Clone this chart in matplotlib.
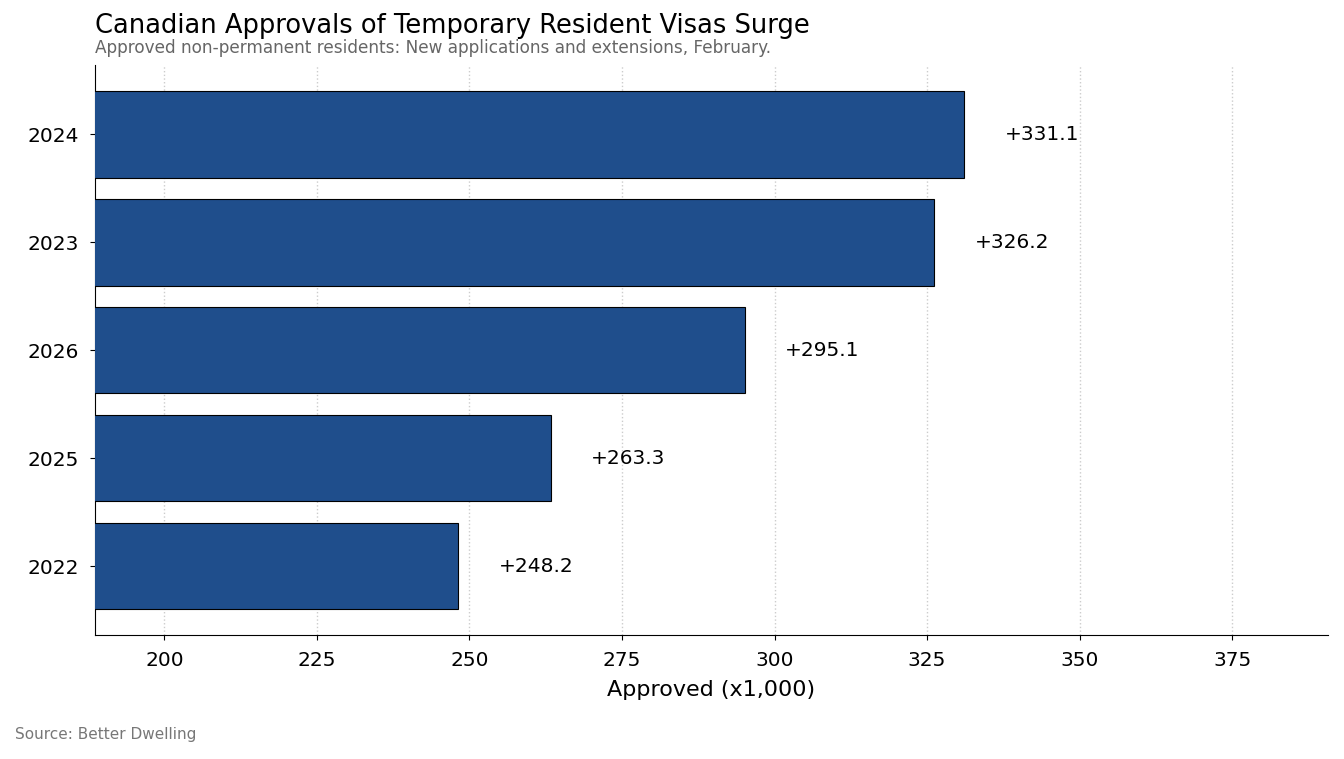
import numpy as np
import matplotlib.pyplot as plt

plt.rcParams['font.family'] = ['DejaVu Sans']

#%% data
years = ['2022', '2025', '2026', '2023', '2024']
approved = [248.2, 263.3, 295.1, 326.2, 331.1]

#%% plot
fig, ax = plt.subplots(figsize=[13.44, 7.59], dpi=100)
fig.subplots_adjust(left=0.0707, right=0.988, top=0.914, bottom=0.163)

pos = np.arange(len(years))
ax.barh(pos, approved, height=0.8, color='#1f4e8c', edgecolor='black', linewidth=0.8, zorder=3)
ax.set_yticks(pos)
ax.set_yticklabels(years)

off = max(approved) * 0.02
for p, v in zip(pos, approved):
    ax.text(v + off, p, f'+{v:.1f}', va='center', ha='left', fontsize=14.5)

ax.set_xlim(min(approved) * 0.76, max(approved) * 1.18)
ax.set_xticks(np.arange(200, 376, 25))
ax.tick_params(axis='both', labelsize=14.5, pad=8)
ax.set_xlabel('Approved (x1,000)', fontsize=16, labelpad=7)
ax.grid(axis='x', linestyle=':', color='#cccccc', linewidth=1, zorder=0)
ax.spines['top'].set_visible(False)
ax.spines['right'].set_visible(False)

fig.text(0.0707, 0.948, 'Canadian Approvals of Temporary Resident Visas Surge', fontsize=18.5, ha='left', va='bottom')
fig.text(0.0707, 0.925, 'Approved non-permanent residents: New applications and extensions, February.',
         fontsize=12.2, color='#666666', ha='left', va='bottom')
fig.text(0.011, 0.022, 'Source: Better Dwelling', fontsize=11, color='#777777', ha='left', va='bottom')

fig.savefig('out.png', dpi=100)
